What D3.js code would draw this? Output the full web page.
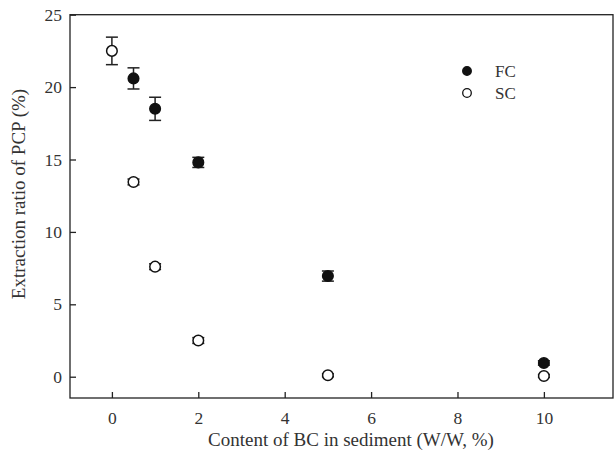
<!DOCTYPE html>
<html>
<head>
<meta charset="utf-8">
<script src="https://cdnjs.cloudflare.com/ajax/libs/d3/7.8.5/d3.min.js"></script>
<style>
  body { margin: 0; background: #fff; }
  text { font-family: "Liberation Serif", "DejaVu Serif", serif; fill: #333; }
</style>
</head>
<body>
<div id="chart"></div>
<script>
var bcContent = [0, 0.5, 1, 2, 5, 10];
var fcValues  = [null, 20.6, 18.5, 14.8, 6.95, 0.95];
var fcErrors  = [null, 0.73, 0.8, 0.35, 0.35, 0.15];
var scValues  = [22.5, 13.45, 7.6, 2.5, 0.1, 0.05];
var scErrors  = [0.95, 0.2, 0.2, 0.2, 0.1, 0.1];
var xTicks = [0, 2, 4, 6, 8, 10];
var yTicks = [0, 5, 10, 15, 20, 25];

var width = 614, height = 460;
var svg = d3.select("#chart").append("svg")
    .attr("width", width).attr("height", height);

var x = d3.scaleLinear().domain([-0.97, 11.6]).range([70, 613]);
var y = d3.scaleLinear().domain([-1.47, 25]).range([398, 14.7]);

// frame (left, top, bottom, right)
svg.append("rect")
    .attr("x", x.range()[0]).attr("y", y.range()[1])
    .attr("width", x.range()[1] - x.range()[0])
    .attr("height", y.range()[0] - y.range()[1])
    .style("fill", "none").style("stroke", "#222").style("stroke-width", 1.3);

var xAxis = svg.append("g")
    .attr("transform", "translate(0," + y.range()[0] + ")")
    .call(d3.axisBottom(x).tickValues(xTicks).tickSizeInner(-6).tickSizeOuter(0).tickPadding(14));
var yAxis = svg.append("g")
    .attr("transform", "translate(" + x.range()[0] + ",0)")
    .call(d3.axisLeft(y).tickValues(yTicks).tickSizeInner(-6).tickSizeOuter(0).tickPadding(8));

[xAxis, yAxis].forEach(function(a){
    a.select(".domain").remove();
    a.selectAll(".tick line").style("stroke", "#222").style("stroke-width", 1.3);
    a.selectAll(".tick text").style("font-size", "17.5px").style("fill", "#333")
      .style("font-family", "Liberation Serif");
});

svg.append("text")
    .attr("x", 351).attr("y", 446)
    .attr("text-anchor", "middle")
    .style("font-size", "19px")
    .text("Content of BC in sediment (W/W, %)");

svg.append("text")
    .attr("transform", "translate(25,194) rotate(-90)")
    .attr("text-anchor", "middle")
    .style("font-size", "19px")
    .text("Extraction ratio of PCP (%)");

function series(vals, errs){
    return bcContent.map(function(c, i){
        return {x: c, v: vals[i], e: errs[i]};
    }).filter(function(d){ return d.v !== null; });
}

function drawSeries(data, filled){
    var g = svg.append("g");
    var bars = g.selectAll("g.err").data(data).enter().append("g")
        .style("stroke", "#222").style("stroke-width", 1.5);
    bars.append("line")
        .attr("x1", function(d){ return x(d.x); })
        .attr("x2", function(d){ return x(d.x); })
        .attr("y1", function(d){ return y(d.v - d.e); })
        .attr("y2", function(d){ return y(d.v + d.e); });
    [-1, 1].forEach(function(s){
        bars.append("line")
            .attr("x1", function(d){ return x(d.x) - 6; })
            .attr("x2", function(d){ return x(d.x) + 6; })
            .attr("y1", function(d){ return y(d.v + s * d.e); })
            .attr("y2", function(d){ return y(d.v + s * d.e); });
    });
    g.selectAll("circle").data(data).enter().append("circle")
        .attr("cx", function(d){ return x(d.x); })
        .attr("cy", function(d){ return y(d.v); })
        .attr("r", 5.3)
        .style("fill", filled ? "#111" : "#fff")
        .style("stroke", "#111").style("stroke-width", 1.5);
}

drawSeries(series(scValues, scErrors), false);
drawSeries(series(fcValues, fcErrors), true);

var legend = [{name: "FC", filled: true}, {name: "SC", filled: false}];
var lg = svg.selectAll("g.legend").data(legend).enter().append("g")
    .attr("transform", function(d, i){ return "translate(467," + (71 + i * 22) + ")"; });
lg.append("circle").attr("r", 4.3)
    .style("fill", function(d){ return d.filled ? "#111" : "#fff"; })
    .style("stroke", "#111").style("stroke-width", 1.3);
lg.append("text").attr("x", 28).attr("y", 5.5)
    .style("font-size", "17px")
    .text(function(d){ return d.name; });
</script>
</body>
</html>
